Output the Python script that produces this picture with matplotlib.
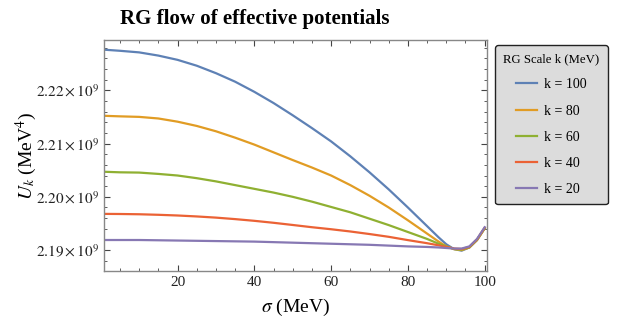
import matplotlib
matplotlib.use('Agg')
import matplotlib.pyplot as plt
from matplotlib.ticker import MultipleLocator, FuncFormatter

plt.rcParams['font.family'] = ['Liberation Serif', 'DejaVu Serif']
plt.rcParams['mathtext.fontset'] = 'stix'

# sigma grid (MeV) and potentials U_k (in units of 1e9 MeV^4)
sigma = [1, 5, 10, 15, 20, 25, 30, 35, 40, 45, 50, 55, 60, 65, 70, 75, 80, 85, 88, 90, 92, 94, 96, 98, 100]
u_k100 = [2.2276, 2.2274, 2.2271, 2.2265, 2.2257, 2.2246, 2.2232, 2.2216, 2.2197, 2.2176, 2.2153, 2.2129,
          2.2104, 2.2076, 2.2046, 2.2014, 2.1980, 2.1945, 2.1924, 2.1911, 2.1902, 2.1899, 2.1905, 2.1919, 2.1941]
u_k80 = [2.2152, 2.2151, 2.2150, 2.2147, 2.2141, 2.2133, 2.2123, 2.2111, 2.2098, 2.20835, 2.2069, 2.2055,
         2.2040, 2.2022, 2.2002, 2.1980, 2.1956, 2.1931, 2.1916, 2.1907, 2.1902, 2.1900, 2.1905, 2.1919, 2.1941]
u_k60 = [2.2047, 2.2046, 2.20455, 2.2043, 2.2040, 2.2035, 2.2029, 2.2022, 2.2015, 2.2008, 2.2000, 2.1991,
         2.1981, 2.1971, 2.1959, 2.1947, 2.1934, 2.1921, 2.1912, 2.1907, 2.1902, 2.1901, 2.1905, 2.1919, 2.1941]
u_k40 = [2.1968, 2.19678, 2.19673, 2.19663, 2.1965, 2.19632, 2.1961, 2.19582, 2.1955, 2.19513, 2.19472, 2.1943,
         2.19392, 2.1935, 2.19302, 2.1925, 2.19188, 2.1913, 2.1909, 2.1906, 2.1903, 2.1902, 2.1906, 2.1920, 2.1942]
u_k20 = [2.1919, 2.1919, 2.1919, 2.19185, 2.1918, 2.19175, 2.1917, 2.19165, 2.1916, 2.1915, 2.1914, 2.1913,
         2.1912, 2.1911, 2.1910, 2.19085, 2.1907, 2.1906, 2.1905, 2.1904, 2.1903, 2.1903, 2.1907, 2.1921, 2.1943]

series = [u_k100, u_k80, u_k60, u_k40, u_k20]
labels = ['k = 100', 'k = 80', 'k = 60', 'k = 40', 'k = 20']
colors = ['#5E81B5', '#E19C24', '#8FB032', '#EB6235', '#8778B3']

fig = plt.figure(figsize=(6.18, 3.21), dpi=100)
ax = fig.add_axes([0.168, 0.156, 0.620, 0.719])

for u, lab, c in zip(series, labels, colors):
    ax.plot(sigma, [v * 1e9 for v in u], color=c, lw=1.6, label=lab)

ax.set_xlim(0.8, 100.6)
ax.set_ylim(2.1861e9, 2.2294e9)

ax.xaxis.set_major_locator(MultipleLocator(20))
ax.xaxis.set_minor_locator(MultipleLocator(5))
ax.yaxis.set_major_locator(MultipleLocator(0.01e9))
ax.yaxis.set_minor_locator(MultipleLocator(0.002e9))
ax.yaxis.set_major_formatter(FuncFormatter(lambda v, p: r'$%.2f\times10^{9}$' % (v / 1e9)))

ax.tick_params(which='both', direction='in', top=True, right=True, colors='#444444', labelcolor='#222222', labelsize=11)
ax.tick_params(which='major', length=4, width=0.8)
ax.tick_params(which='minor', length=2, width=0.6)
for s in ax.spines.values():
    s.set_color('#888888')
    s.set_linewidth(1.0)

ax.set_xlabel(r'$\sigma$ (MeV)', fontsize=14, labelpad=6)
ax.set_ylabel(r'$U_k$ (MeV$^4$)', fontsize=14, labelpad=-2)
fig.text(0.194, 0.925, 'RG flow of effective potentials', fontsize=15, fontweight='bold', ha='left', va='baseline')

leg = fig.legend(loc='upper left', bbox_to_anchor=(0.790, 0.882), title='RG Scale k (MeV)',
                 fontsize=10, title_fontsize=9.2, fancybox=True, framealpha=1, handlelength=1.5,
                 handletextpad=0.5, labelspacing=0.95, borderpad=0.6)
frame = leg.get_frame()
frame.set_facecolor('#dcdcdc')
frame.set_edgecolor('#222222')
frame.set_linewidth(1.0)

fig.savefig('out.png', dpi=100)
